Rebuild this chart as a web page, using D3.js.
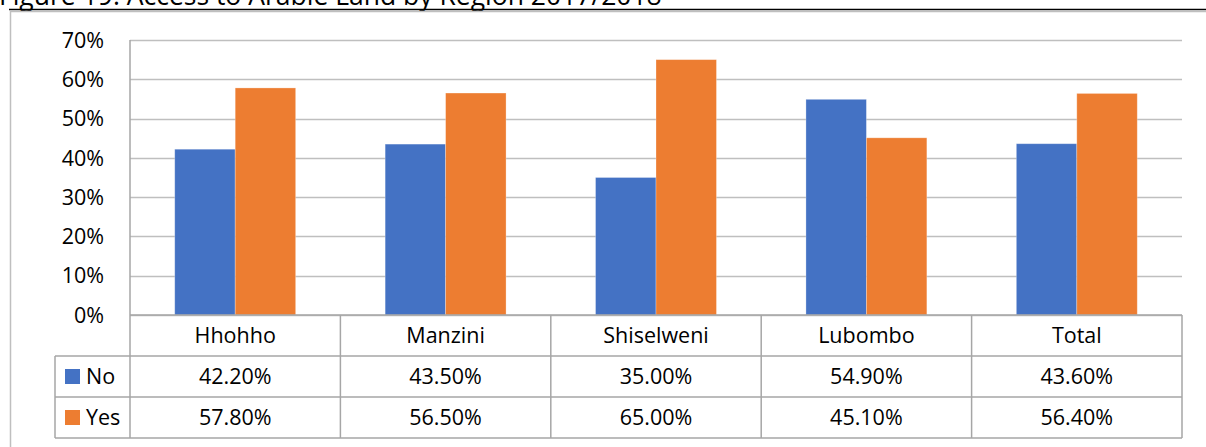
<!DOCTYPE html>
<html>
<head>
<meta charset="utf-8">
<script src="https://cdn.jsdelivr.net/npm/d3@7"></script>
<style>
  body { margin: 0; background: #fff; overflow: hidden; }
  text { font-family: "Open Sans", "Noto Sans", sans-serif; fill: #000; }
</style>
</head>
<body>
<div id="svgContainer"></div>
<script>
const w = 1206;
const h = 447;

// data
const regions = ["Hhohho", "Manzini", "Shiselweni", "Lubombo", "Total"];
const seriesNames = ["No", "Yes"];
const noValues = [42.2, 43.5, 35.0, 54.9, 43.6];
const yesValues = [57.8, 56.5, 65.0, 45.1, 56.4];
const yTicks = [0, 10, 20, 30, 40, 50, 60, 70];
const colors = ["#4472C4", "#ED7D31"]; // No, Yes

const plot = { left: 130, right: 1182, top: 40, bottom: 315 };
const rowH = [315, 356, 397, 438]; // header row, No row, Yes row edges
const legendLeft = 55;
const fs = "21.5px";

const svg = d3.select("#svgContainer").append("svg")
    .attr("width", w)
    .attr("height", h);

// clipped title at the very top (cut off in the source too)
svg.append("text")
    .attr("x", -1)
    .attr("y", 5)
    .style("font-size", "26.5px")
    .text("Figure 19: Access to Arable Land by Region 2017/2018");

// page rule + chart frame
svg.append("line")
    .attr("x1", 9).attr("x2", w).attr("y1", 9.5).attr("y2", 9.5)
    .style("stroke", "#000").style("stroke-width", 1.5);
svg.append("path")
    .attr("d", `M10.5,${h} V11.5 H${w}`)
    .style("fill", "none").style("stroke", "#BFBFBF").style("stroke-width", 1.5);

const x = d3.scaleBand()
    .domain(regions)
    .range([plot.left, plot.right]);

const xInner = d3.scaleBand()
    .domain(seriesNames)
    .range([0, x.bandwidth()])
    .paddingOuter(0.74);

const y = d3.scaleLinear()
    .domain([0, 70])
    .range([plot.bottom, plot.top]);

// gridlines
svg.append("g")
    .selectAll("line")
    .data(yTicks)
    .enter()
    .append("line")
    .attr("x1", plot.left)
    .attr("x2", plot.right)
    .attr("y1", (d) => Math.round(y(d)) + 0.5)
    .attr("y2", (d) => Math.round(y(d)) + 0.5)
    .style("stroke", "#BFBFBF")
    .style("stroke-width", 1.5);

// y axis labels
svg.append("g")
    .selectAll("text")
    .data(yTicks)
    .enter()
    .append("text")
    .attr("x", 104)
    .attr("y", (d) => y(d))
    .attr("dy", "0.36em")
    .attr("text-anchor", "end")
    .style("font-size", fs)
    .text((d) => d + "%");

// bars
const table = regions.map((r, i) => ({ region: r, values: [noValues[i], yesValues[i]] }));

const groups = svg.append("g")
    .selectAll("g")
    .data(table)
    .enter()
    .append("g")
    .attr("transform", (d) => `translate(${x(d.region)},0)`);

groups.selectAll("rect")
    .data((d) => d.values.map((v, j) => ({ name: seriesNames[j], value: v, color: colors[j] })))
    .enter()
    .append("rect")
    .attr("x", (d) => xInner(d.name))
    .attr("width", xInner.bandwidth())
    .attr("y", (d) => y(d.value))
    .attr("height", (d) => y(0) - y(d.value))
    .style("fill", (d) => d.color)
    .style("stroke", "rgba(255,255,255,0.35)")
    .style("stroke-width", 0.8);

// data table lines
const grid = svg.append("g")
    .style("stroke", "#A6A6A6")
    .style("stroke-width", 1.5)
    .style("fill", "none");

grid.append("line")
    .attr("x1", plot.left).attr("x2", plot.right)
    .attr("y1", rowH[0]).attr("y2", rowH[0]);
[1, 2, 3].forEach((k) => {
    grid.append("line")
        .attr("x1", legendLeft).attr("x2", plot.right)
        .attr("y1", rowH[k]).attr("y2", rowH[k]);
});
// vertical lines
grid.append("line")
    .attr("x1", plot.left).attr("x2", plot.left)
    .attr("y1", plot.top).attr("y2", rowH[3]);
grid.append("line")
    .attr("x1", legendLeft).attr("x2", legendLeft)
    .attr("y1", rowH[1]).attr("y2", rowH[3]);
regions.forEach((r) => {
    grid.append("line")
        .attr("x1", x(r) + x.bandwidth()).attr("x2", x(r) + x.bandwidth())
        .attr("y1", rowH[0]).attr("y2", rowH[3]);
});

// category header
svg.append("g")
    .selectAll("text")
    .data(regions)
    .enter()
    .append("text")
    .attr("x", (d) => x(d) + x.bandwidth() / 2)
    .attr("y", (rowH[0] + rowH[1]) / 2)
    .attr("dy", "0.36em")
    .attr("text-anchor", "middle")
    .style("font-size", fs)
    .text((d) => d);

// legend cells + values
seriesNames.forEach((name, j) => {
    const cy = (rowH[j + 1] + rowH[j + 2]) / 2;
    svg.append("rect")
        .attr("x", 65).attr("y", cy - 7.5)
        .attr("width", 15).attr("height", 15)
        .style("fill", colors[j]);
    svg.append("text")
        .attr("x", 86).attr("y", cy)
        .attr("dy", "0.36em")
        .style("font-size", fs)
        .text(name);
    const vals = j === 0 ? noValues : yesValues;
    svg.append("g")
        .selectAll("text")
        .data(regions)
        .enter()
        .append("text")
        .attr("x", (d) => x(d) + x.bandwidth() / 2)
        .attr("y", cy)
        .attr("dy", "0.36em")
        .attr("text-anchor", "middle")
        .style("font-size", fs)
        .text((d, i) => vals[i].toFixed(2) + "%");
});
</script>
</body>
</html>
